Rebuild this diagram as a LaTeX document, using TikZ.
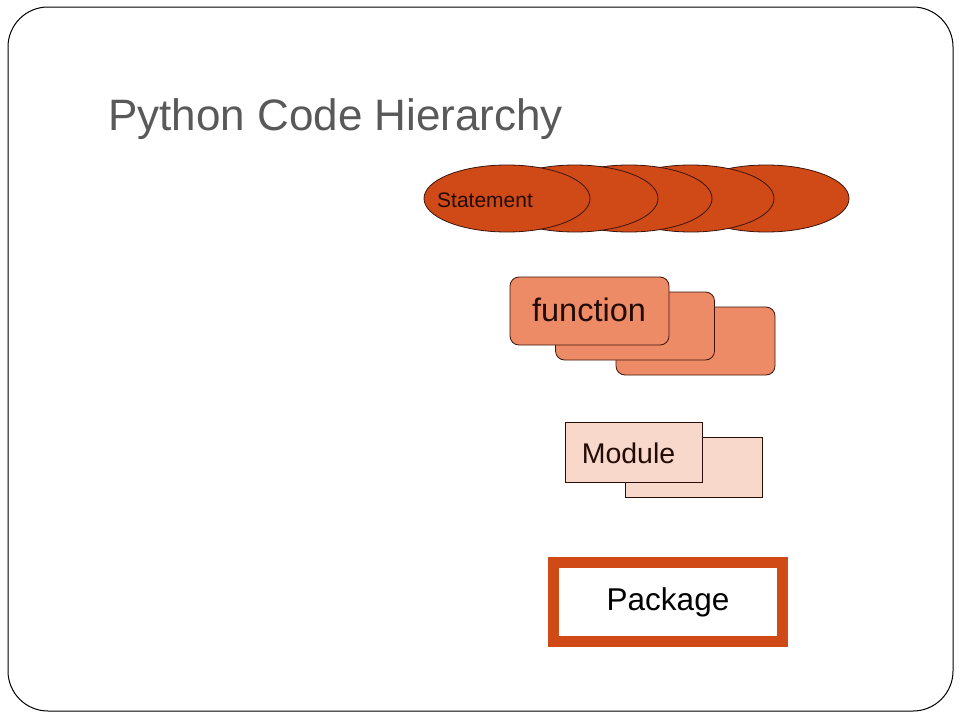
\documentclass[tikz,border=0pt]{standalone}
\usepackage{fontspec}
\setmainfont{Liberation Sans}
\usetikzlibrary{shapes.geometric}
\definecolor{stmt}{RGB}{208,74,24}
\definecolor{func}{RGB}{237,139,103}
\definecolor{modc}{RGB}{247,216,203}
\definecolor{titlec}{RGB}{89,89,89}
\definecolor{edge}{RGB}{60,20,10}
\begin{document}
\begin{tikzpicture}[x=1pt,y=-1pt,
  stmtell/.style={ellipse,draw=edge,line width=0.8pt,fill=stmt,minimum width=166pt,minimum height=67pt,inner sep=0pt},
  funcbox/.style={rectangle,rounded corners=9pt,draw=edge,line width=0.8pt,fill=func,minimum width=159pt,minimum height=68pt,inner sep=0pt},
  modbox/.style={rectangle,draw=edge!70!black,line width=0.6pt,fill=modc,minimum width=137pt,minimum height=60pt,inner sep=0pt},
  pkgbox/.style={rectangle,draw=stmt,line width=11pt,fill=white,minimum width=229pt,minimum height=79pt,inner sep=0pt}]
\useasboundingbox (0,0) rectangle (960,720);
\fill[white] (0,0) rectangle (960,720);
\draw[line width=1pt,rounded corners=40pt] (8,7) rectangle (953,711);
\node[anchor=base west,text=titlec,font=\fontsize{44}{50}\selectfont,inner sep=0pt] (title) at (108,130) {Python Code Hierarchy};
% statements
\node[stmtell] (s5) at (766,198.5) {};
\node[stmtell] (s4) at (691,198.5) {};
\node[stmtell] (s3) at (629,198.5) {};
\node[stmtell] (s2) at (575,198.5) {};
\node[stmtell] (s1) at (507,198.5) {};
\node[anchor=west,font=\fontsize{21}{24}\selectfont,text=edge!60!black,inner sep=0pt] (stext) at (437,200) {Statement};
% functions
\node[funcbox] (f3) at (695.5,341) {};
\node[funcbox] (f2) at (635,326) {};
\node[funcbox] (f1) at (589.5,311) {};
\node[font=\fontsize{32.5}{36}\selectfont,text=edge!60!black,inner sep=0pt] (ftext) at (589,310) {function};
% modules
\node[modbox] (m2) at (694,467) {};
\node[modbox] (m1) at (633.5,452) {};
\node[font=\fontsize{28.5}{32}\selectfont,inner sep=0pt,text=edge!60!black] (mtext) at (628.5,453) {Module};
% package
\node[pkgbox,font=\fontsize{31.5}{36}\selectfont] (pkg) at (668,602) {Package};
\end{tikzpicture}
\end{document}
